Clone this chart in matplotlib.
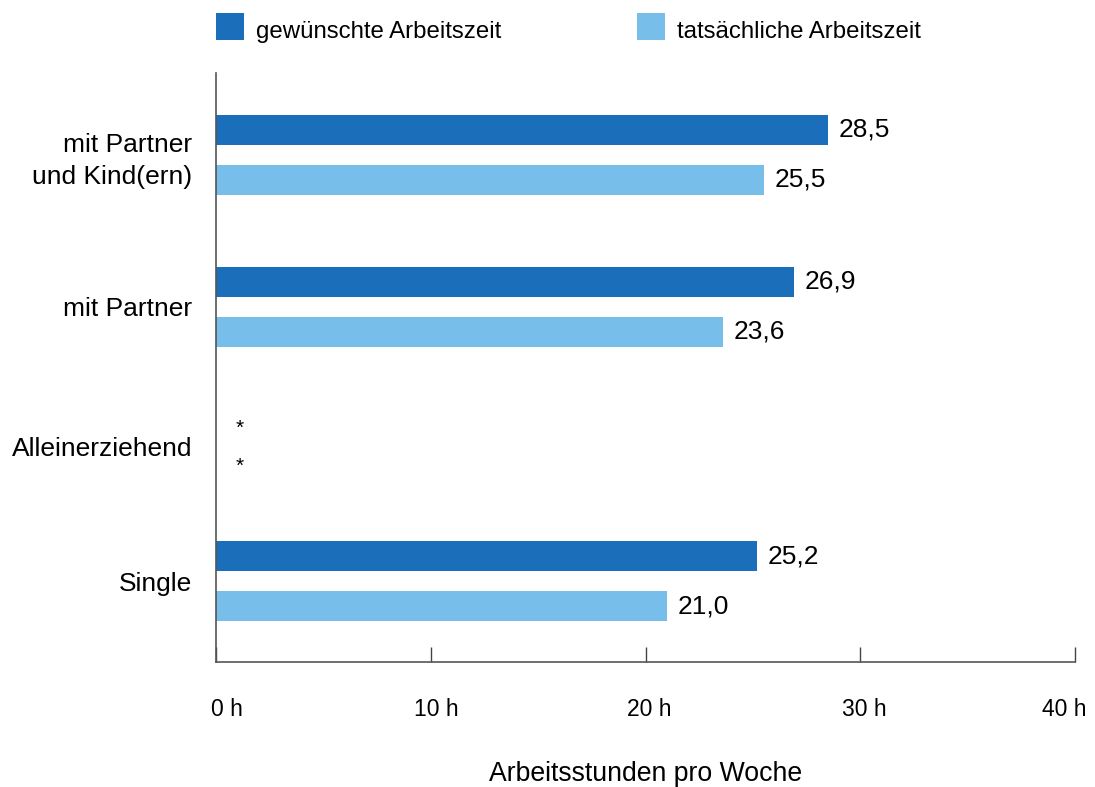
import matplotlib
matplotlib.use("Agg")
import matplotlib.pyplot as plt
from matplotlib.patches import Rectangle
from matplotlib.transforms import ScaledTranslation

plt.rcParams['font.family'] = ['Liberation Sans', 'DejaVu Sans']

categories = ["mit Partner\nund Kind(ern)", "mit Partner", "Alleinerziehend", "Single"]
gewuenscht = [28.5, 26.9, None, 25.2]
tatsaechlich = [25.5, 23.6, None, 21.0]
series_names = ["gewünschte Arbeitszeit", "tatsächliche Arbeitszeit"]
xticks = [0, 10, 20, 30, 40]
xticklabels = ["0 h", "10 h", "20 h", "30 h", "40 h"]
xlabel = "Arbeitsstunden pro Woche"

# layout
ypos = [3.0, 1.93, 0.95, 0.0]
dark = "#1B6FBA"
light = "#78BEEA"
off = 0.176
bh = 0.215

W, H = 1095, 787
fig = plt.figure(figsize=(W / 100, H / 100), dpi=100)
ax = fig.add_axes([216 / W, 1 - 662 / H, (1075 - 216) / W, (662 - 73) / H])

fmt = lambda v: f"{v:.1f}".replace(".", ",")
for y, g, t in zip(ypos, gewuenscht, tatsaechlich):
    if g is None:
        ax.text(0.93, y + 0.127, "*", fontsize=15, ha="left", va="center", color="black")
    else:
        ax.barh(y + off, g, height=bh, color=dark, edgecolor="none")
        ax.text(g + 0.5, y + off, fmt(g), fontsize=19, ha="left", va="center", color="black")
    if t is None:
        ax.text(0.93, y - 0.14, "*", fontsize=15, ha="left", va="center", color="black")
    else:
        ax.barh(y - off, t, height=bh, color=light, edgecolor="none")
        ax.text(t + 0.5, y - off, fmt(t), fontsize=19, ha="left", va="center", color="black")

ax.set_xlim(0, 40)
ax.set_ylim(-0.57, 3.577)
ax.set_xticks(xticks)
ax.set_xticklabels(xticklabels, fontsize=16.5)
ax.set_yticks(ypos)
ax.set_yticklabels(categories, fontsize=19, linespacing=1.4)
ax.tick_params(axis="x", direction="in", length=11, width=1, color="#444444", pad=26)
ax.tick_params(axis="y", length=0, pad=17)
for s in ("top", "right"):
    ax.spines[s].set_visible(False)
for s in ("left", "bottom"):
    ax.spines[s].set_color("#555555")
    ax.spines[s].set_linewidth(1.2)
ax.set_xlabel(xlabel, fontsize=19.2, labelpad=29)

# tick label alignment tweaks (pixels)
shifts = [(-5, "left"), (6, "center"), (4, "center"), (4, "center"), (11, "right")]
for lab, (dx, ha) in zip(ax.get_xticklabels(), shifts):
    lab.set_ha(ha)
    lab.set_transform(lab.get_transform() + ScaledTranslation(dx / 100, 0, fig.dpi_scale_trans))

# legend
for x0, col, name in ((216, dark, series_names[0]), (637, light, series_names[1])):
    fig.add_artist(Rectangle((x0 / W, 1 - 40 / H), 28 / W, 27 / H,
                             transform=fig.transFigure, color=col, lw=0))
    fig.text((x0 + 40) / W, 1 - 32 / H, name, fontsize=17.3, ha="left", va="center")

fig.savefig("out.png", dpi=100)
